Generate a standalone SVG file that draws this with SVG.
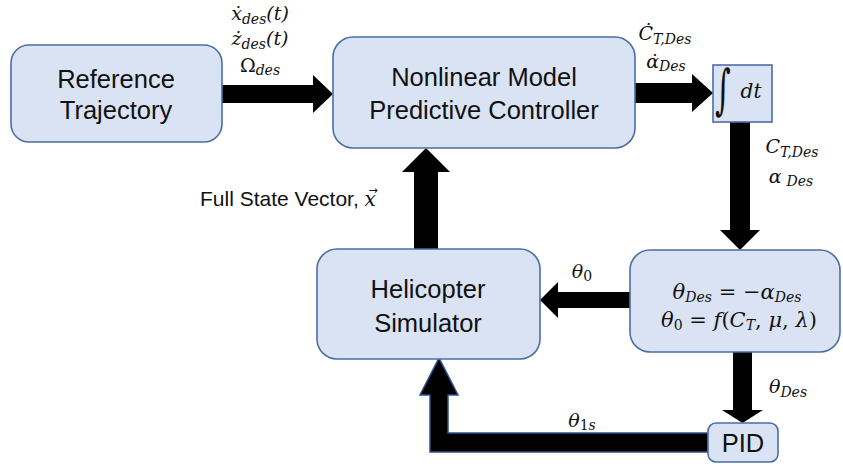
<svg xmlns="http://www.w3.org/2000/svg" width="843" height="468" viewBox="0 0 843 468">
<style>
.box{fill:#DAE3F3;stroke:#4A6FA5;stroke-width:1.6}
.bt{font-family:"Liberation Sans",Arial,sans-serif;font-size:25.5px;fill:#111;text-anchor:middle}
.m{font-family:"DejaVu Serif","Liberation Serif",serif;font-style:italic;font-size:19px;fill:#111;text-anchor:middle}
.mb{font-family:"DejaVu Serif","Liberation Serif",serif;font-style:italic;font-size:21px;fill:#111;text-anchor:middle}
.up{font-style:normal}
.arr{fill:#000}
</style>
<rect width="843" height="468" fill="#fff"/>
<g id="connectors">
<polygon class="arr" points="222,85 313,85 313,75 333,94 313,113 313,103 222,103"/>
<polygon class="arr" points="634,83 692,83 692,74 713,93 692,112 692,103 634,103"/>
<polygon class="arr" points="730,122 750,122 750,230 760,230 740,250 720,230 730,230"/>
<polygon class="arr" points="631,292 558,292 558,282 540,300 558,318 558,308 631,308"/>
<polygon class="arr" points="414,249 414,172 402,172 426,148 450,172 438,172 438,249"/>
<polygon class="arr" points="733,352 752,352 752,410 763,410 742.5,423 722,410 733,410"/>
<polygon points="708,433 448,433 448,395 458,395 439,358 420,395 430,395 430,452 708,452" fill="#000" stroke="#2F528F" stroke-width="1.5" stroke-linejoin="miter"/>
<text class="m" x="260" y="20">ẋ<tspan font-size="14" dy="4">des</tspan><tspan dy="-4">(t)</tspan></text>
<text class="m" x="260" y="45">ż<tspan font-size="14" dy="4">des</tspan><tspan dy="-4">(t)</tspan></text>
<text class="m" x="260" y="72"><tspan class="up">Ω</tspan><tspan font-size="14" dy="3">des</tspan></text>
<text class="m" x="665" y="40">Ċ<tspan font-size="14" dy="4">T,Des</tspan></text>
<text class="m" x="666" y="68">α̇<tspan font-size="14" dy="3">Des</tspan></text>
<text class="m" x="792" y="153">C<tspan font-size="14" dy="4">T,Des</tspan></text>
<text class="m" x="791" y="183">α<tspan font-size="14" dy="3" dx="5">Des</tspan></text>
<text class="m" x="582" y="278">θ<tspan class="up" font-size="14" dy="3">0</tspan></text>
<text class="m" x="788" y="393">θ<tspan font-size="14" dy="4">Des</tspan></text>
<text class="m" x="582" y="427">θ<tspan font-size="14" dy="3"><tspan class="up">1</tspan>s</tspan></text>
<text x="200" y="206" font-family="'Liberation Sans',Arial,sans-serif" font-size="21" fill="#111">Full State Vector, <tspan font-family="'DejaVu Serif',serif" font-style="italic" font-size="20">x</tspan></text>
<text x="373" y="194" font-family="'DejaVu Sans',sans-serif" font-size="11" fill="#111" text-anchor="middle">→</text>
</g>
<g id="reference-trajectory">
<rect class="box" x="11" y="45" width="211" height="97" rx="18"/>
<text class="bt" x="116" y="88">Reference</text>
<text class="bt" x="116" y="119">Trajectory</text>
</g>
<g id="nmpc">
<rect class="box" x="333" y="37" width="302" height="111" rx="20"/>
<text class="bt" x="484" y="86">Nonlinear Model</text>
<text class="bt" x="484" y="119">Predictive Controller</text>
</g>
<g id="integrator">
<rect class="box" x="713" y="65" width="59" height="57"/>
<text transform="translate(723,108) scale(0.75,1.35)" font-family="'DejaVu Serif',serif" font-size="40" fill="#111" text-anchor="middle">∫</text>
<text x="751" y="98" font-family="'DejaVu Serif',serif" font-style="italic" font-size="20" fill="#111" text-anchor="middle">dt</text>
</g>
<g id="mapping">
<rect class="box" x="630" y="250" width="210" height="102" rx="20"/>
<text class="mb" x="737" y="299">θ<tspan font-size="14" dy="3">Des</tspan><tspan class="up" dy="-3"> = −</tspan>α<tspan font-size="14" dy="3">Des</tspan></text>
<text class="mb" x="739" y="327">θ<tspan class="up" font-size="14" dy="3">0</tspan><tspan class="up" dy="-3"> = </tspan>f<tspan class="up">(</tspan>C<tspan font-size="14" dy="3">T</tspan><tspan class="up" dy="-3">, </tspan>μ<tspan class="up">, </tspan>λ<tspan class="up">)</tspan></text>
</g>
<g id="helicopter-simulator">
<rect class="box" x="317" y="249" width="223" height="110" rx="20"/>
<text class="bt" x="428" y="298">Helicopter</text>
<text class="bt" x="428" y="332">Simulator</text>
</g>
<g id="pid">
<rect class="box" x="708" y="423" width="70" height="39" rx="8"/>
<text class="bt" x="743" y="452">PID</text>
</g>
</svg>
